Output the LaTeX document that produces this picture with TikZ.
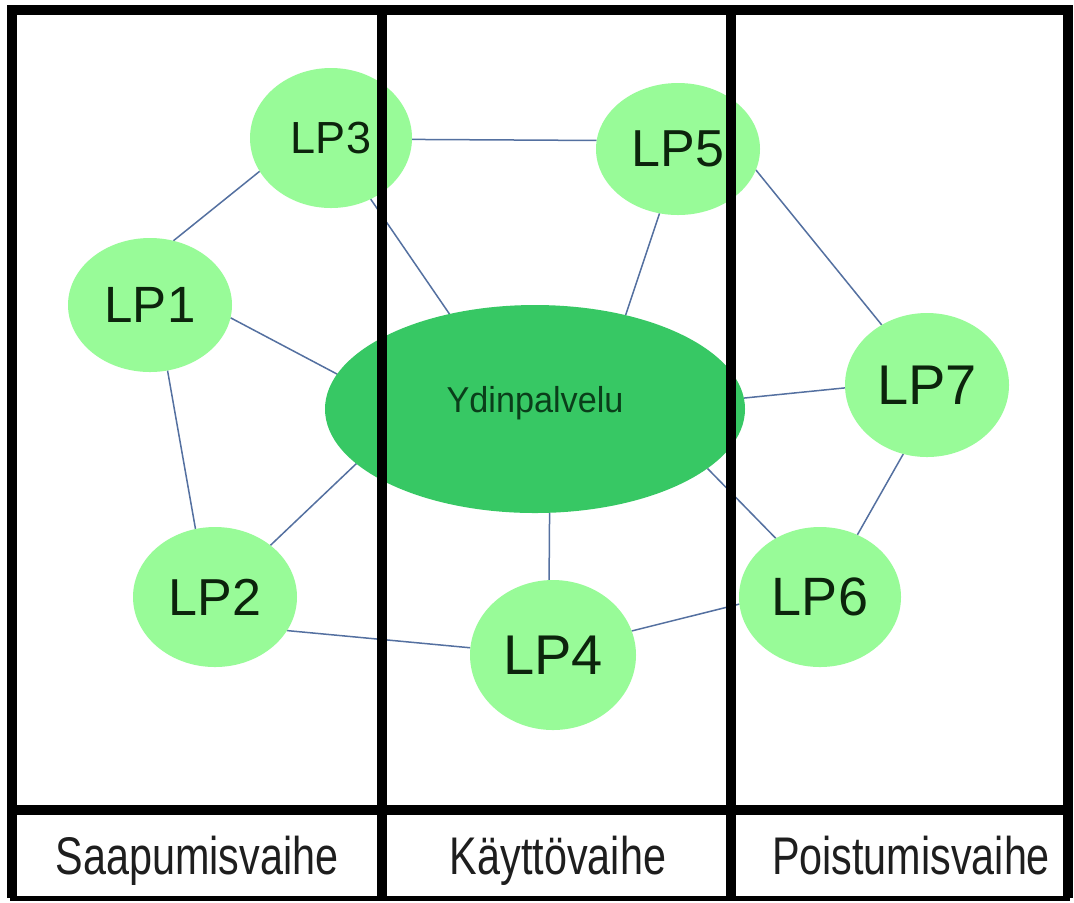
\documentclass[tikz,border=0pt]{standalone}
\usepackage{fontspec}
\usepackage{graphicx}
\setmainfont{Liberation Sans}
\usetikzlibrary{shapes.geometric,backgrounds}
\definecolor{lpgreen}{RGB}{152,251,152}
\definecolor{coregreen}{RGB}{55,200,100}
\definecolor{lptext}{RGB}{12,36,12}
\definecolor{coretext}{RGB}{10,62,26}
\definecolor{edgeblue}{RGB}{84,112,160}
\definecolor{labeltext}{RGB}{30,30,30}
\tikzset{
  lp/.style={ellipse, fill=lpgreen, inner sep=0pt, outer sep=0pt, text=lptext},
  core/.style={ellipse, fill=coregreen, inner sep=0pt, outer sep=0pt, text=coretext,
    minimum width=210pt, minimum height=104pt},
  link/.style={draw=edgeblue, line width=0.75pt},
  frame/.style={draw=black, line width=5pt},
  thinframe/.style={draw=black, line width=2.5pt},
  phase/.style={inner sep=0pt, anchor=base, text=labeltext, font=\fontsize{26.5}{30}\selectfont}
}
\begin{document}
\begin{tikzpicture}[x=0.5pt,y=-0.5pt]
\useasboundingbox (0,0) rectangle (1074,902);

\node[lp, minimum width=82pt, minimum height=67pt, font=\fontsize{25.5}{29}\selectfont] (lp1) at (150,305) {LP1};
\node[lp, minimum width=82pt, minimum height=70pt, font=\fontsize{26}{30}\selectfont] (lp2) at (215,597) {LP2};
\node[lp, minimum width=81pt, minimum height=70pt, font=\fontsize{22.5}{27}\selectfont] (lp3) at (331,138) {LP3};
\node[lp, minimum width=83pt, minimum height=75pt, font=\fontsize{28}{32}\selectfont] (lp4) at (553,655) {LP4};
\node[lp, minimum width=82pt, minimum height=66pt, font=\fontsize{26}{30}\selectfont] (lp5) at (678,149) {\raisebox{-3pt}{LP5}};
\node[lp, minimum width=81pt, minimum height=70pt, font=\fontsize{27}{31}\selectfont] (lp6) at (820,597) {LP6};
\node[lp, minimum width=82pt, minimum height=72pt, font=\fontsize{28}{32}\selectfont] (lp7) at (927,385) {LP7};
\node[core] (core) at (535,409) {\raisebox{10pt}{\scalebox{0.95}[1]{\fontsize{18}{20}\selectfont Ydinpalvelu}}};

\begin{scope}[on background layer]
\fill[white] (0,0) rectangle (1074,902);
\draw[link] (lp3.205) -- (lp1.70);
\draw[link] (lp3.-1) -- (lp5.174);
\draw[link] (lp3.303.5) -- (core.132.3);
\draw[link] (lp5.254.3) -- (core.46.2);
\draw[link] (lp5.-15.7) -- (lp7.127.9);
\draw[link] (lp1.-9) -- (core.170.2);
\draw[link] (lp1.-75) -- (lp2.106);
\draw[link] (lp2.43.4) -- (core.197.9);
\draw[link] (lp2.-25.2) -- (lp4.175.2);
\draw[link] (core.-82.7) -- (lp4.93.7);
\draw[link] (core.-19.4) -- (lp6.127.2);
\draw[link] (core.3.8) -- (lp7.182.1);
\draw[link] (lp7.251.3) -- (lp6.59.2);
\draw[link] (lp4.17.6) -- (lp6.185.6);
\end{scope}

% frame
\draw[frame, line join=miter] (12,898) -- (12,10) -- (1068,10) -- (1068,898);
\draw[frame] (382,10) -- (382,898);
\draw[frame] (731,10) -- (731,898);
\draw[frame] (12,810) -- (1068,810);
\draw[thinframe] (10,898) -- (1070,898);

\node[phase] (sa) at (197,874) {\scalebox{0.78}[1]{Saapumisvaihe}};
\node[phase] (ka) at (558,874) {\scalebox{0.78}[1]{Käyttövaihe}};
\node[phase] (po) at (911,874) {\scalebox{0.78}[1]{Poistumisvaihe}};
\end{tikzpicture}
\end{document}
